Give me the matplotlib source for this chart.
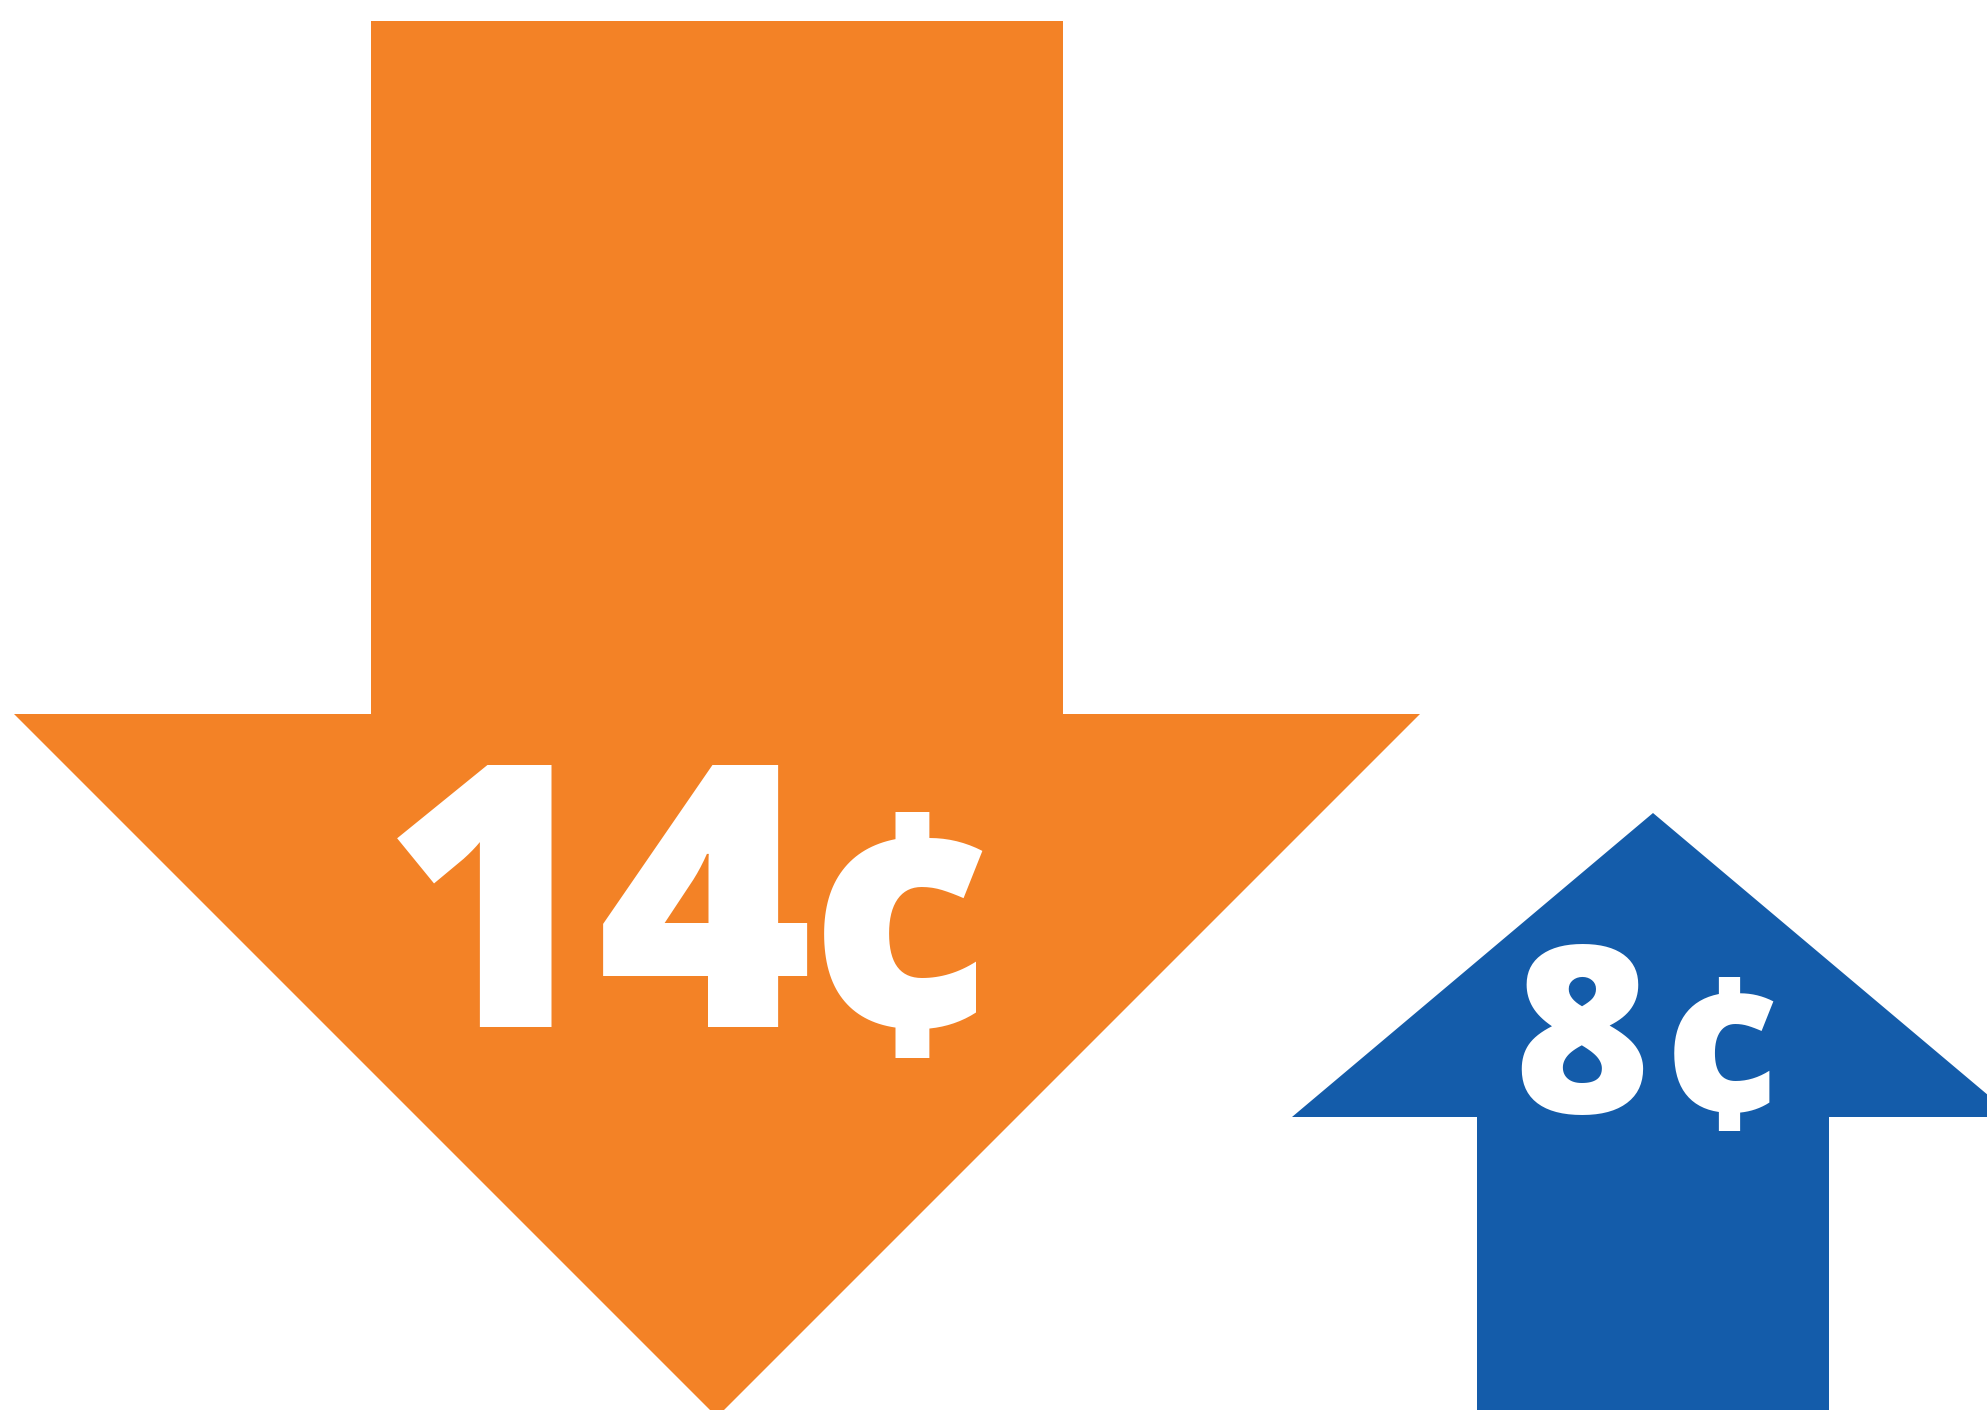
import matplotlib.pyplot as plt
from matplotlib.font_manager import FontProperties
from matplotlib.patches import Polygon
from matplotlib.textpath import TextPath

# values shown on the two arrows (cents)
values = [14, 8]
unit = "¢"
directions = ["down", "up"]
colors = ["#F38226", "#145CAA"]

# arrow geometry in pixels: center x, shaft half width, shaft end y,
# head base y, head half width, tip y
arrow_geom = [
    (717, 346, 21, 714, 703, 1417),
    (1653, 176, 1450, 1117, 361, 813),
]
# ink boxes (left, top, right, bottom) in pixels for digits and cent sign
digit_boxes = [(424, 764, 780, 1027), (1521, 944, 1643, 1115)]
cent_boxes = [(809, 812, 997, 1058), (1665, 977, 1782, 1131)]

W, H = 1987, 1410
DPI = 100
FONT = FontProperties(family="Open Sans", weight="heavy")


def arrow_points(cx, shaft_hw, shaft_end, base, head_hw, tip):
    return [
        (cx - shaft_hw, shaft_end),
        (cx + shaft_hw, shaft_end),
        (cx + shaft_hw, base),
        (cx + head_hw, base),
        (cx, tip),
        (cx - head_hw, base),
        (cx - shaft_hw, base),
    ]


def fit_text(ax, s, box):
    """Size and place real text so its glyph ink fills box (height fit)."""
    left, top, right, bottom = box
    ext = TextPath((0, 0), s, size=1, prop=FONT).get_extents()
    # pixels per point of font size
    k = DPI / 72
    fs = (bottom - top) / (ext.height * k)
    s_px = fs * k
    # center horizontally within the box
    x = (left + right) / 2 - (ext.x0 + ext.width / 2) * s_px
    y = bottom + ext.y0 * s_px
    ax.text(x, y, s, color="white", fontproperties=FONT, fontsize=fs,
            ha="left", va="baseline")


fig = plt.figure(figsize=(W / DPI, H / DPI), dpi=DPI)
ax = fig.add_axes([0, 0, 1, 1])
ax.set_xlim(0, W)
ax.set_ylim(H, 0)
ax.axis("off")

for value, direction, color, geom, dbox, cbox in zip(
    values, directions, colors, arrow_geom, digit_boxes, cent_boxes
):
    ax.add_patch(Polygon(arrow_points(*geom), closed=True, facecolor=color,
                         edgecolor="none"))
    fit_text(ax, f"{value}", dbox)
    fit_text(ax, unit, cbox)

fig.savefig("out.png", dpi=DPI)
